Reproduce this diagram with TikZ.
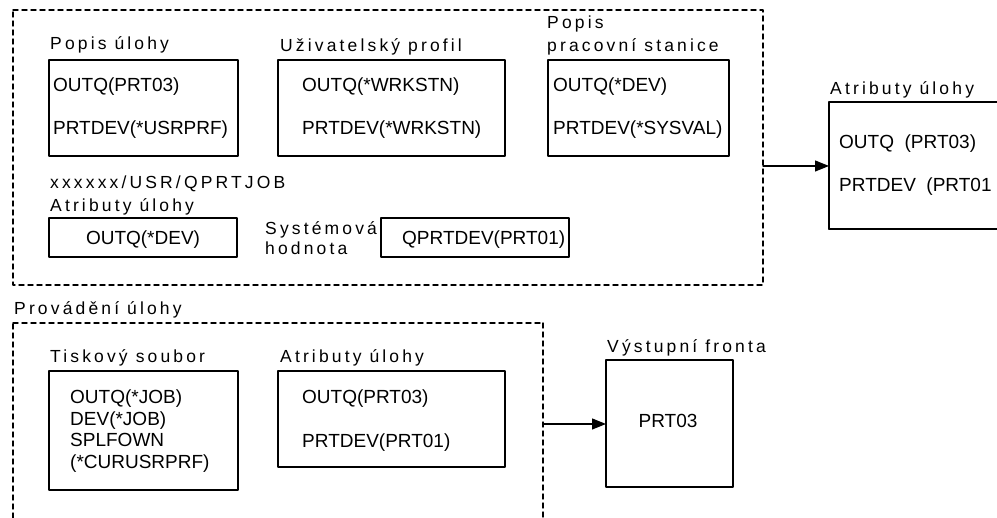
\documentclass[tikz,border=0pt]{standalone}
\usepackage{fontspec}
\setmainfont{Liberation Sans}
\newfontfamily\labelfont[LetterSpace=18]{Liberation Sans}
\usepackage{tkz-euclide}
\usetikzlibrary{arrows.meta}

\tikzset{
  boxtext/.style={anchor=base west,inner sep=0pt,font=\fontsize{19}{25}\selectfont},
  boxlabel/.style={anchor=base west,inner sep=0pt,font=\labelfont\fontsize{17.5}{22}\selectfont},
  frameline/.style={line width=1.4pt,dash pattern=on 5pt off 4pt},
  boxline/.style={line width=1.6pt},
  flow/.style={line width=1.2pt,-{Triangle[length=14pt,width=11pt]}}
}

\begin{document}
\begin{tikzpicture}[x=1pt,y=1pt]
\useasboundingbox (0,0) rectangle (997,518);

% upper frame
\tkzDefPoint(13,508){fA}
\tkzDefPoint(763,508){fB}
\tkzDefPoint(763,233){fC}
\tkzDefPoint(13,233){fD}
\tkzDrawPolygon[frameline](fA,fB,fC,fD)

  \tkzDefPoint(49,458){pu1}
  \tkzDefPoint(238,458){pu2}
  \tkzDefPoint(238,362){pu3}
  \tkzDefPoint(49,362){pu4}
\tkzDrawPolygon[boxline](pu1,pu2,pu3,pu4)
\node[boxlabel] (lpu) at (50,468) {Popis úlohy};
\node[boxtext] (pu outq) at (53,426) {OUTQ(PRT03)};
\node[boxtext] (pu dev) at (53,383) {PRTDEV(*USRPRF)};

  \tkzDefPoint(278,458){up1}
  \tkzDefPoint(505,458){up2}
  \tkzDefPoint(505,362){up3}
  \tkzDefPoint(278,362){up4}
\tkzDrawPolygon[boxline](up1,up2,up3,up4)
\node[boxlabel] (lup) at (280,466) {Uživatelský profil};
\node[boxtext] (up outq) at (302,426) {OUTQ(*WRKSTN)};
\node[boxtext] (up dev) at (302,383) {PRTDEV(*WRKSTN)};

  \tkzDefPoint(548,458){ps1}
  \tkzDefPoint(729,458){ps2}
  \tkzDefPoint(729,362){ps3}
  \tkzDefPoint(548,362){ps4}
\tkzDrawPolygon[boxline](ps1,ps2,ps3,ps4)
\node[boxlabel] (lps) at (547,489) {Popis};
\node[boxlabel] (lps2) at (547,466) {pracovní stanice};
\node[boxtext] (ps outq) at (553,426) {OUTQ(*DEV)};
\node[boxtext] (ps dev) at (553,383) {PRTDEV(*SYSVAL)};

  \tkzDefPoint(49,300){qa1}
  \tkzDefPoint(237,300){qa2}
  \tkzDefPoint(237,261){qa3}
  \tkzDefPoint(49,261){qa4}
\tkzDrawPolygon[boxline](qa1,qa2,qa3,qa4)
\node[boxlabel] (lqj) at (50,329) {xxxxxx/USR/QPRTJOB};
\node[boxlabel] (lqa) at (50,306) {Atributy úlohy};
\node[boxtext,anchor=base] (qa outq) at (143,273) {OUTQ(*DEV)};

  \tkzDefPoint(381,300){sh1}
  \tkzDefPoint(569,300){sh2}
  \tkzDefPoint(569,261){sh3}
  \tkzDefPoint(381,261){sh4}
\tkzDrawPolygon[boxline](sh1,sh2,sh3,sh4)
\node[boxlabel] (lsh) at (265,283) {Systémová};
\node[boxlabel] (lsh2) at (265,263) {hodnota};
\node[boxtext] (sh dev) at (402,273) {QPRTDEV(PRT01)};

% result of the job start
\tkzDefPoint(997,416){ra1}
\tkzDefPoint(829,416){ra2}
\tkzDefPoint(829,289){ra3}
\tkzDefPoint(997,289){ra4}
\tkzDrawSegments[boxline](ra1,ra2 ra2,ra3 ra3,ra4)
\node[boxlabel] (lra) at (830,423) {Atributy úlohy};
\node[boxtext] (ra outq) at (839,369) {OUTQ\ \ (PRT03)};
\node[boxtext] (ra dev) at (839,326) {PRTDEV\ \ (PRT01};

  \tkzDefPoint(763,352){tOut}
  \tkzDefPoint(829,352){rIn}
\tkzDrawSegment[flow](tOut,rIn)

% lower frame
\tkzDefPoint(13,0){pA}
\tkzDefPoint(13,195){pB}
\tkzDefPoint(543,195){pC}
\tkzDefPoint(543,0){pD}
\tkzDrawSegments[frameline](pA,pB pB,pC pC,pD)
\node[boxlabel] (lpr) at (14,203) {Provádění úlohy};

  \tkzDefPoint(49,147){ts1}
  \tkzDefPoint(238,147){ts2}
  \tkzDefPoint(238,28){ts3}
  \tkzDefPoint(49,28){ts4}
\tkzDrawPolygon[boxline](ts1,ts2,ts3,ts4)
\node[boxlabel] (lts) at (50,155) {Tiskový soubor};
\node[boxtext] (ts outq) at (70,114) {OUTQ(*JOB)};
\node[boxtext] (ts dev) at (70,92) {DEV(*JOB)};
\node[boxtext] (ts own) at (70,71) {SPLFOWN};
\node[boxtext] (ts cur) at (70,49) {(*CURUSRPRF)};

  \tkzDefPoint(278,147){au1}
  \tkzDefPoint(505,147){au2}
  \tkzDefPoint(505,51){au3}
  \tkzDefPoint(278,51){au4}
\tkzDrawPolygon[boxline](au1,au2,au3,au4)
\node[boxlabel] (lau) at (280,155) {Atributy úlohy};
\node[boxtext] (au outq) at (302,114) {OUTQ(PRT03)};
\node[boxtext] (au dev) at (302,70) {PRTDEV(PRT01)};

  \tkzDefPoint(606,158){vf1}
  \tkzDefPoint(733,158){vf2}
  \tkzDefPoint(733,31){vf3}
  \tkzDefPoint(606,31){vf4}
\tkzDrawPolygon[boxline](vf1,vf2,vf3,vf4)
\node[boxlabel] (lvf) at (607,165) {Výstupní fronta};
\node[boxtext,anchor=base] (vf q) at (668,90) {PRT03};

  \tkzDefPoint(543,94){bOut}
  \tkzDefPoint(606,94){vIn}
\tkzDrawSegment[flow](bOut,vIn)

\end{tikzpicture}
\end{document}
